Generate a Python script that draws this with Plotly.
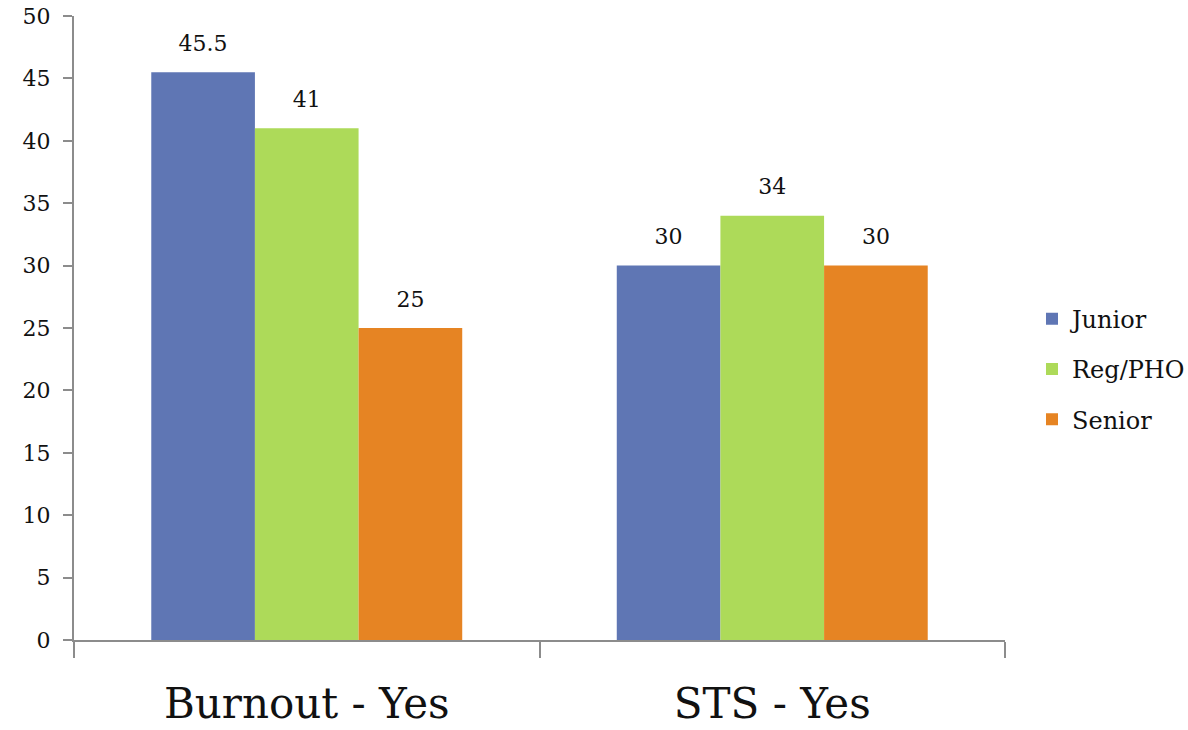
import plotly.graph_objects as go

categories = ["Burnout - Yes", "STS - Yes"]
series_names = ["Junior", "Reg/PHO", "Senior"]
junior = [45.5, 30]
reg_pho = [41, 34]
senior = [25, 30]
colors = ["#5F76B4", "#ADDA59", "#E68423"]

FONT = "DejaVu Serif"
GAP = 0.332

fig = go.Figure()
for name, vals, col in zip(series_names, [junior, reg_pho, senior], colors):
    fig.add_trace(go.Bar(
        name=name, x=categories, y=vals,
        marker=dict(color=col, line=dict(width=0)),
        offsetgroup=name, legendgroup=name,
        hoverinfo="x+y+name",
    ))
for name, vals in zip(series_names, [junior, reg_pho, senior]):
    fig.add_trace(go.Scatter(
        x=categories, y=vals, mode="markers+text",
        text=[f"{v:g}" for v in vals], textposition="top center",
        textfont=dict(family=FONT, size=22, color="#111111"),
        marker=dict(size=24, color="rgba(0,0,0,0)"),
        offsetgroup=name, showlegend=False, hoverinfo="skip",
        cliponaxis=False,
    ))

fig.update_layout(
    width=1188, height=730,
    margin=dict(l=74, r=183, t=16, b=90, autoexpand=False),
    paper_bgcolor="white", plot_bgcolor="white",
    barmode="group", bargap=GAP, bargroupgap=0,
    scattermode="group", scattergap=GAP,
    font=dict(family=FONT, color="#111111"),
    showlegend=True,
    legend=dict(x=1.029, y=0.434, xanchor="left", yanchor="middle",
                font=dict(family=FONT, size=24, color="#111111"),
                tracegroupgap=16, traceorder="grouped",
                bgcolor="rgba(0,0,0,0)"),
)
fig.update_xaxes(
    automargin=False,
    showline=True, linecolor="#8C8C8C", linewidth=2,
    ticks="outside", ticklen=16, tickcolor="#8C8C8C", tickwidth=2,
    tickson="boundaries", showgrid=False,
    tickfont=dict(family=FONT, size=42, color="#111111"),
    ticklabelstandoff=26,
)
fig.update_yaxes(
    automargin=False,
    range=[0, 50], dtick=5, tick0=0,
    showline=True, linecolor="#8C8C8C", linewidth=2,
    ticks="outside", ticklen=9, tickcolor="#8C8C8C", tickwidth=2,
    showgrid=False, zeroline=False,
    tickfont=dict(family=FONT, size=22, color="#111111"),
    ticklabelstandoff=8,
)

fig.write_html("out.html")
